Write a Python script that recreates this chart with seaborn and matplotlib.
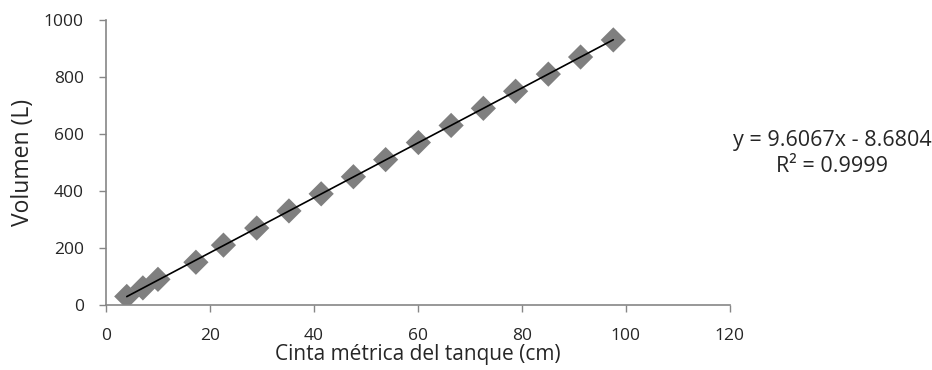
import matplotlib
matplotlib.use("Agg")
import matplotlib.pyplot as plt
import seaborn as sns
import numpy as np
import pandas as pd

cinta_cm = [4.0, 7.1, 10.0, 17.3, 22.6, 29.0, 35.2, 41.4, 47.6, 53.8, 60.1, 66.4, 72.6, 78.8, 85.1, 91.3, 97.6]
volumen_l = [30, 60, 90, 150, 210, 270, 330, 390, 450, 510, 570, 630, 690, 750, 810, 870, 930]
x_ticks = [0, 20, 40, 60, 80, 100, 120]
y_ticks = [0, 200, 400, 600, 800, 1000]
x_label = "Cinta métrica del tanque (cm)"
y_label = "Volumen (L)"
eq_lines = ["y = 9.6067x - 8.6804", "R² = 0.9999"]

df = pd.DataFrame({"x": cinta_cm, "y": volumen_l})

sns.set_style("white")
plt.rcParams['font.family'] = ['Open Sans', 'DejaVu Sans']

fig = plt.figure(figsize=(9.32, 3.70), dpi=100)
ax = fig.add_axes([0.1137, 0.1757, 0.783 - 0.1137, 0.946 - 0.1757])

sns.scatterplot(data=df, x="x", y="y", marker="D", s=165, color="#7f7f7f",
                edgecolor="none", ax=ax, zorder=2)
sns.regplot(data=df, x="x", y="y", scatter=False, ci=None, truncate=True,
            line_kws={"color": "black", "lw": 1.2, "zorder": 3}, ax=ax)

ax.set_xlim(0, 120)
ax.set_ylim(0, 1000)
ax.set_xticks(x_ticks)
ax.set_yticks(y_ticks)
ax.set_xlabel(x_label, fontsize=15, color="#262626", labelpad=0)
ax.set_ylabel(y_label, fontsize=16.5, color="#262626", labelpad=6)
ax.tick_params(axis="both", which="major", length=5, width=1, color="#868686",
               labelsize=12.5, labelcolor="#262626", direction="out")
ax.tick_params(axis="x", bottom=True, pad=11.5)
ax.tick_params(axis="y", left=True, pad=11)
for side in ["top", "right"]:
    ax.spines[side].set_visible(False)
for side in ["left", "bottom"]:
    ax.spines[side].set_color("#868686")
    ax.spines[side].set_linewidth(1.2)

fig.text(832 / 932, 1 - 146 / 370, eq_lines[0], ha="center", va="baseline",
         fontsize=15.5, color="#262626")
fig.text(832 / 932, 1 - 172 / 370, eq_lines[1], ha="center", va="baseline",
         fontsize=15.5, color="#262626")

fig.savefig("out.png", dpi=100)
